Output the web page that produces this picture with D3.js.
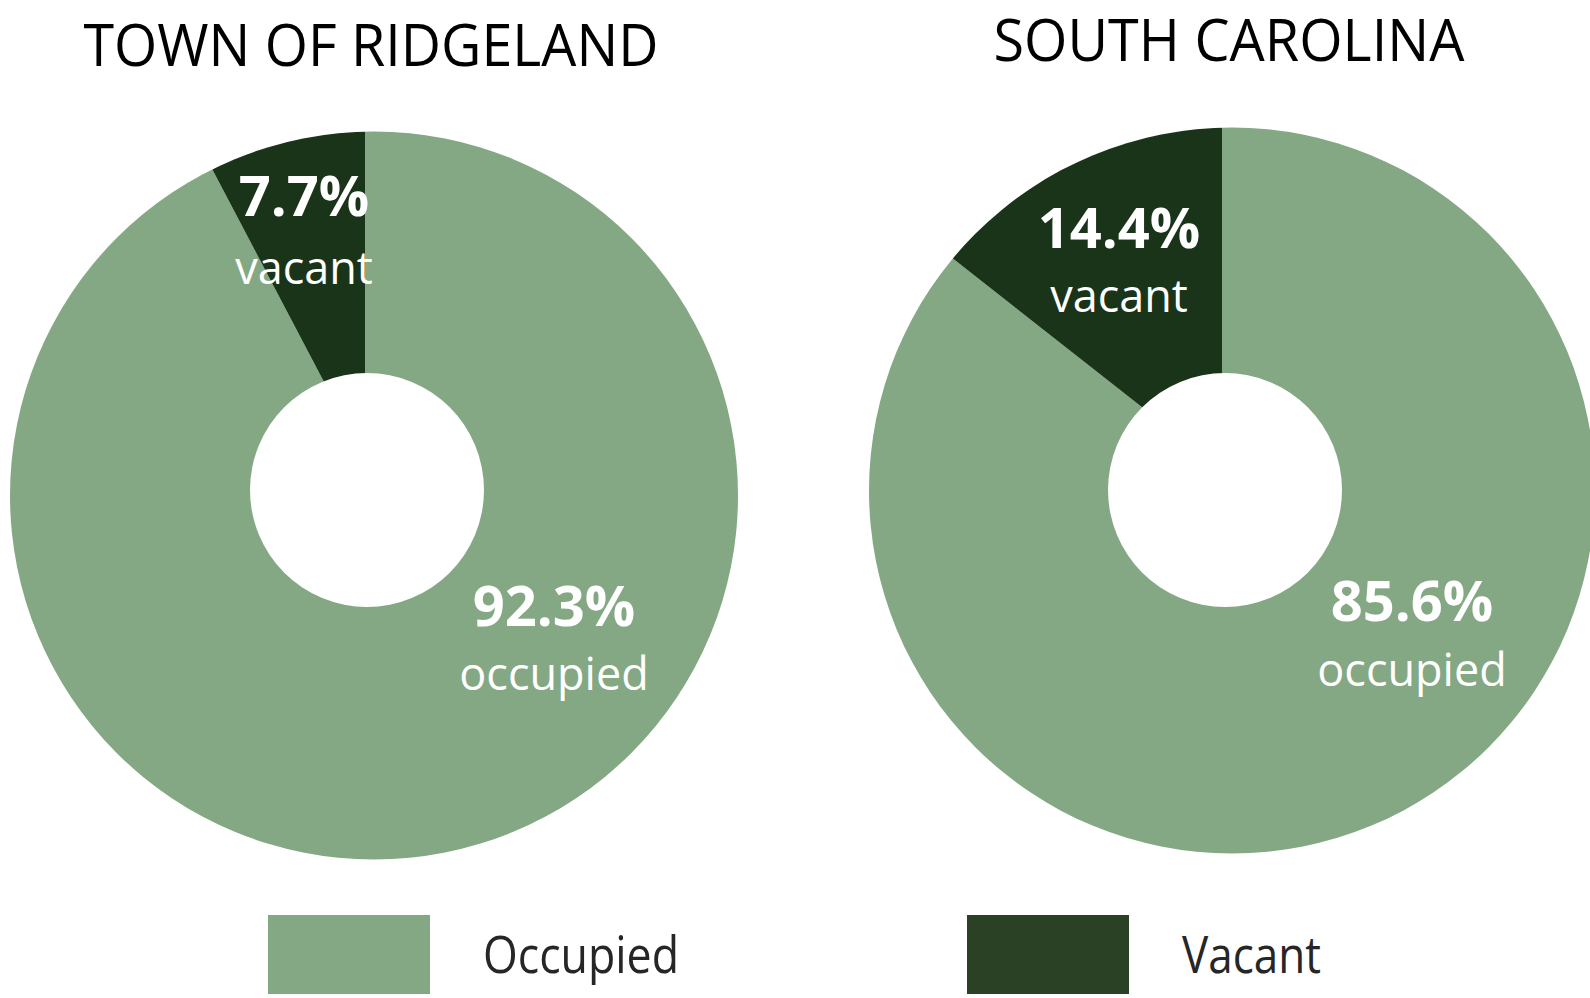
<!DOCTYPE html>
<html>
<head>
<meta charset="utf-8">
<script src="https://cdn.jsdelivr.net/npm/d3@7"></script>
<style>
  html, body { margin: 0; padding: 0; background: #fff; overflow: hidden; }
  svg { display: block; font-family: 'Open Sans', 'Noto Sans', sans-serif; }
</style>
</head>
<body>
<div id="chart"></div>
<script>
// data
const regions = ['TOWN OF RIDGELAND', 'SOUTH CAROLINA'];
const categories = ['Occupied', 'Vacant'];
const ridgelandShares = [92.3, 7.7];
const southCarolinaShares = [85.6, 14.4];
const shareLabels = ['occupied', 'vacant'];

const sliceColors = ['#84a883', '#1a3419'];
const legendColors = ['#84a883', '#2a4125'];

const W = 1590, H = 998;

// layout for each donut (apex of the wedges, outer rim, hole)
const layouts = [
    {
        apex: [365, 460], rim: [374, 495.5, 364], hole: [367, 490, 117], titleX: 371, titleY: 66, titleLen: 575,
        labels: [{ x: 554, y: 626, y2: 690 }, { x: 304, y: 216, y2: 284 }]
    },
    {
        apex: [1222, 470], rim: [1232, 490.5, 363], hole: [1225, 490, 117], titleX: 1229, titleY: 61, titleLen: 471,
        labels: [{ x: 1412, y: 621, y2: 686 }, { x: 1119, y: 248, y2: 312 }]
    }
];
const series = [ridgelandShares, southCarolinaShares];

const svg = d3.select('#chart').append('svg')
    .attr('width', W)
    .attr('height', H);

const pie = d3.pie().sort(null).value(d => d);
const arc = d3.arc().innerRadius(0).outerRadius(520);

series.forEach((values, i) => {
    const L = layouts[i];

    svg.append('clipPath').attr('id', `rim-${i}`)
        .append('circle')
        .attr('cx', L.rim[0]).attr('cy', L.rim[1]).attr('r', L.rim[2]);

    const g = svg.append('g').attr('clip-path', `url(#rim-${i})`);
    g.append('g')
        .attr('transform', `translate(${L.apex[0]},${L.apex[1]})`)
        .selectAll('path')
        .data(pie(values))
        .enter().append('path')
        .attr('d', arc)
        .attr('fill', (d, j) => sliceColors[j]);

    svg.append('circle')
        .attr('cx', L.hole[0]).attr('cy', L.hole[1]).attr('r', L.hole[2])
        .attr('fill', '#fff');

    svg.append('text')
        .attr('x', L.titleX).attr('y', L.titleY)
        .attr('text-anchor', 'middle')
        .attr('textLength', L.titleLen)
        .attr('lengthAdjust', 'spacingAndGlyphs')
        .style('font-size', '58px')
        .attr('fill', '#000')
        .text(regions[i]);

    values.forEach((v, j) => {
        const lab = L.labels[j];
        svg.append('text')
            .attr('x', lab.x).attr('y', lab.y)
            .attr('text-anchor', 'middle')
            .style('font-size', '56px')
            .style('font-weight', '700')
            .attr('fill', '#fff')
            .text(`${v.toFixed(1)}%`);
        svg.append('text')
            .attr('x', lab.x).attr('y', lab.y2)
            .attr('text-anchor', 'middle')
            .style('font-size', '45px')
            .attr('fill', '#fff')
            .text(shareLabels[j]);
    });
});

// legend
const legendX = d3.scalePoint().domain(categories).range([268, 967]);
const legend = svg.append('g').selectAll('g')
    .data(categories)
    .enter().append('g')
    .attr('transform', d => `translate(${legendX(d)},915)`);

legend.append('rect')
    .attr('width', 162).attr('height', 79)
    .attr('fill', (d, i) => legendColors[i]);

legend.append('text')
    .attr('x', 215).attr('y', 58)
    .attr('textLength', (d, i) => i === 0 ? 196 : 139)
    .attr('lengthAdjust', 'spacingAndGlyphs')
    .style('font-size', '52px')
    .attr('fill', '#262626')
    .text(d => d);
</script>
</body>
</html>
